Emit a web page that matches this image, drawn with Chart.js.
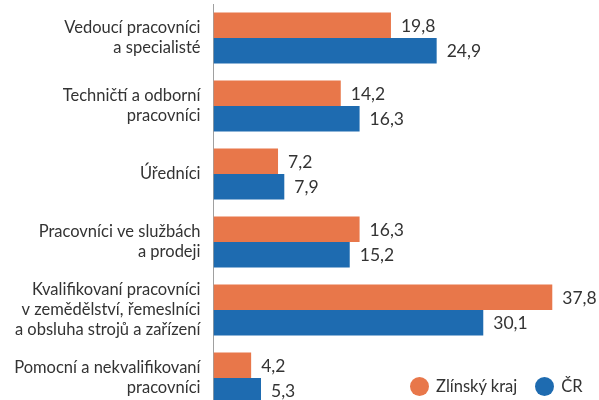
<!DOCTYPE html>
<html lang="cs">
<head>
<meta charset="utf-8">
<script src="https://cdn.jsdelivr.net/npm/chart.js@4.4.0/dist/chart.umd.min.js"></script>
<style>
  html, body { margin: 0; padding: 0; background: #fff; overflow: hidden; }
  #wrap { position: relative; width: 599px; height: 400px; overflow: hidden; }
  #box { position: absolute; left: 0; top: 0; width: 599px; height: 412px; }
  #legend { position: absolute; left: 410px; top: 376px; font: 16.5px Lato, sans-serif; color: #333; white-space: nowrap; }
  #legend span.dot { display: inline-block; width: 19px; height: 19px; border-radius: 50%; vertical-align: -4px; margin-right: 7px; }
  #legend span.item { margin-right: 18px; }
</style>
</head>
<body>
<div id="wrap">
  <div id="box"><canvas id="chart"></canvas></div>
  <div id="legend"></div>
</div>
<script>
// data
const categories = [
  ['Vedoucí pracovníci', 'a specialisté'],
  ['Techničtí a odborní', 'pracovníci'],
  ['Úředníci'],
  ['Pracovníci ve službách', 'a prodeji'],
  ['Kvalifikovaní pracovníci', 'v zemědělství, řemeslníci', 'a obsluha strojů a zařízení'],
  ['Pomocní a nekvalifikovaní', 'pracovníci']
];
const seriesNames = ['Zlínský kraj', 'ČR'];
const zlinskyKraj = [19.8, 14.2, 7.2, 16.3, 37.8, 4.2];
const ceskaRepublika = [24.9, 16.3, 7.9, 15.2, 30.1, 5.3];
const colors = ['#E8774A', '#1E6BB0'];

// value labels to the right of each bar
const valueLabels = {
  id: 'valueLabels',
  afterDatasetsDraw(chart) {
    const ctx = chart.ctx;
    ctx.save();
    ctx.font = '17.5px Lato, sans-serif';
    ctx.fillStyle = '#333';
    ctx.textBaseline = 'middle';
    ctx.textAlign = 'left';
    chart.data.datasets.forEach(function (ds, i) {
      chart.getDatasetMeta(i).data.forEach(function (bar, j) {
        const txt = ds.data[j].toFixed(1).replace('.', ',');
        ctx.fillText(txt, bar.x + 10, bar.y + 1);
      });
    });
    ctx.restore();
  }
};

const ctx = document.getElementById('chart').getContext('2d');
new Chart(ctx, {
  type: 'bar',
  data: {
    labels: categories,
    datasets: [
      { label: seriesNames[0], data: zlinskyKraj, backgroundColor: colors[0] },
      { label: seriesNames[1], data: ceskaRepublika, backgroundColor: colors[1] }
    ]
  },
  options: {
    indexAxis: 'y',
    responsive: true,
    maintainAspectRatio: false,
    animation: false,
    categoryPercentage: 0.75,
    barPercentage: 1.0,
    layout: { padding: { top: 4, right: 27, bottom: 0, left: 0 } },
    scales: {
      x: { display: false, min: 0, max: 40 },
      y: {
        grid: { display: false, drawTicks: false },
        border: { display: true, color: '#a0a0a0', width: 1 },
        ticks: {
          color: '#333',
          padding: 13,
          font: { family: 'Lato, sans-serif', size: 16.5, lineHeight: 1.22 }
        },
        afterFit: function (scale) {
          scale.width = 213.5;
          scale.paddingTop = 0;
          scale.paddingBottom = 0;
        }
      }
    },
    plugins: {
      legend: { display: false },
      tooltip: { enabled: false }
    }
  },
  plugins: [valueLabels]
});

// legend
const legend = document.getElementById('legend');
seriesNames.forEach(function (name, i) {
  const item = document.createElement('span');
  item.className = 'item';
  item.innerHTML = '<span class="dot" style="background:' + colors[i] + '"></span>' + name;
  legend.appendChild(item);
});
</script>
</body>
</html>
